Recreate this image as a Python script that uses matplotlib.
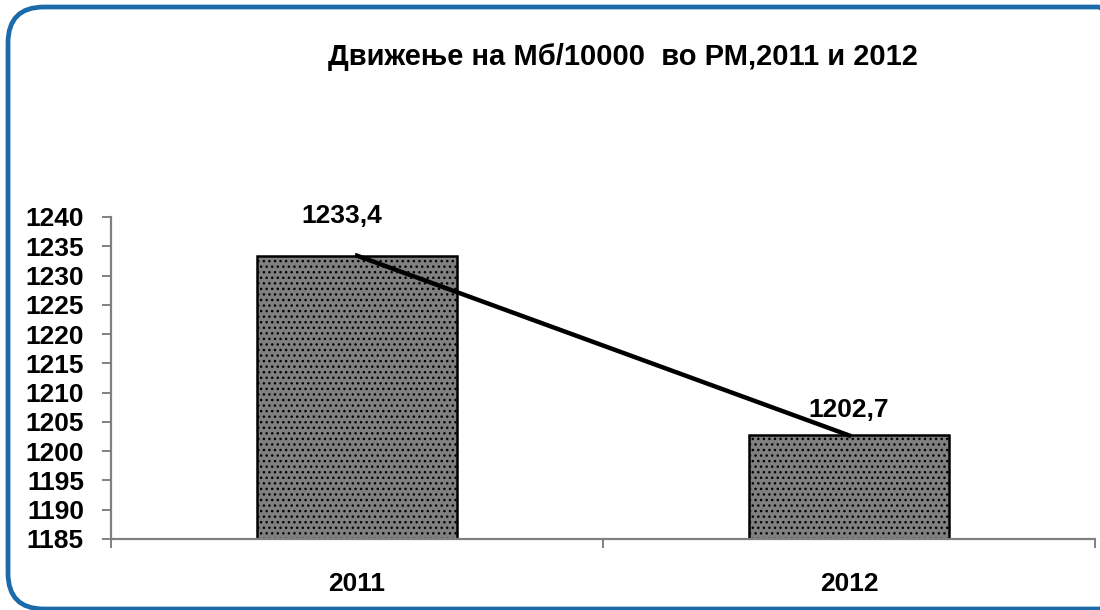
import matplotlib
matplotlib.use("Agg")
import matplotlib.pyplot as plt
from matplotlib.patches import FancyBboxPatch
from matplotlib.transforms import IdentityTransform

# data
years = ["2011", "2012"]
values = [1233.4, 1202.7]
value_labels = ["1233,4", "1202,7"]
y_ticks = [1185, 1190, 1195, 1200, 1205, 1210, 1215, 1220, 1225, 1230, 1235, 1240]
title = "Движење на Мб/10000  во РМ,2011 и 2012"

plt.rcParams['font.family'] = ['Liberation Sans', 'DejaVu Sans']
plt.rcParams['font.weight'] = 'bold'
plt.rcParams['hatch.linewidth'] = 1.0
plt.rcParams['hatch.color'] = '#303030'

fig = plt.figure(figsize=(11, 6.1), dpi=100)
ax = fig.add_axes([111/1100, 1-539/610, (1095-111)/1100, (539-217)/610])

x = range(len(years))
ax.bar(x, [v - y_ticks[0] for v in values], bottom=y_ticks[0], width=0.405,
       color="#808080", edgecolor="black", linewidth=1.8, hatch="...", zorder=2)
ax.plot(x, values, color="black", linewidth=3.2, zorder=3)

# value labels
ax.text(-0.03, 1240.2, value_labels[0], ha="center", va="center", fontsize=19)
ax.text(1.0, 1207.0, value_labels[1], ha="center", va="center", fontsize=19)

ax.set_xlim(-0.5, 1.5)
ax.set_ylim(y_ticks[0], y_ticks[-1])
ax.set_yticks(y_ticks)
ax.set_yticklabels([str(t) for t in y_ticks], fontsize=19)
ax.set_xticks(list(x))
ax.set_xticklabels(years, fontsize=19)
ax.set_xticks([-0.5, 0.5, 1.5], minor=True)

for s in ["top", "right"]:
    ax.spines[s].set_visible(False)
for s in ["left", "bottom"]:
    ax.spines[s].set_color("#808080")
    ax.spines[s].set_linewidth(1.6)
ax.tick_params(axis="y", length=6.5, width=1.4, color="#808080", pad=13)
ax.tick_params(axis="x", which="major", length=0, pad=24)
ax.tick_params(axis="x", which="minor", length=6.5, width=1.4, color="#808080")

fig.text(623/1100, 1-57/610, title, ha="center", va="center", fontsize=21)

# blue rounded frame (right side runs off the picture)
frame = FancyBboxPatch((8, 1), 1126, 602, boxstyle="round,pad=0,rounding_size=36",
                       transform=IdentityTransform(), facecolor="none",
                       edgecolor="#1b6bab", linewidth=3.4, clip_on=False)
fig.add_artist(frame)

fig.savefig("out.png", dpi=100)
